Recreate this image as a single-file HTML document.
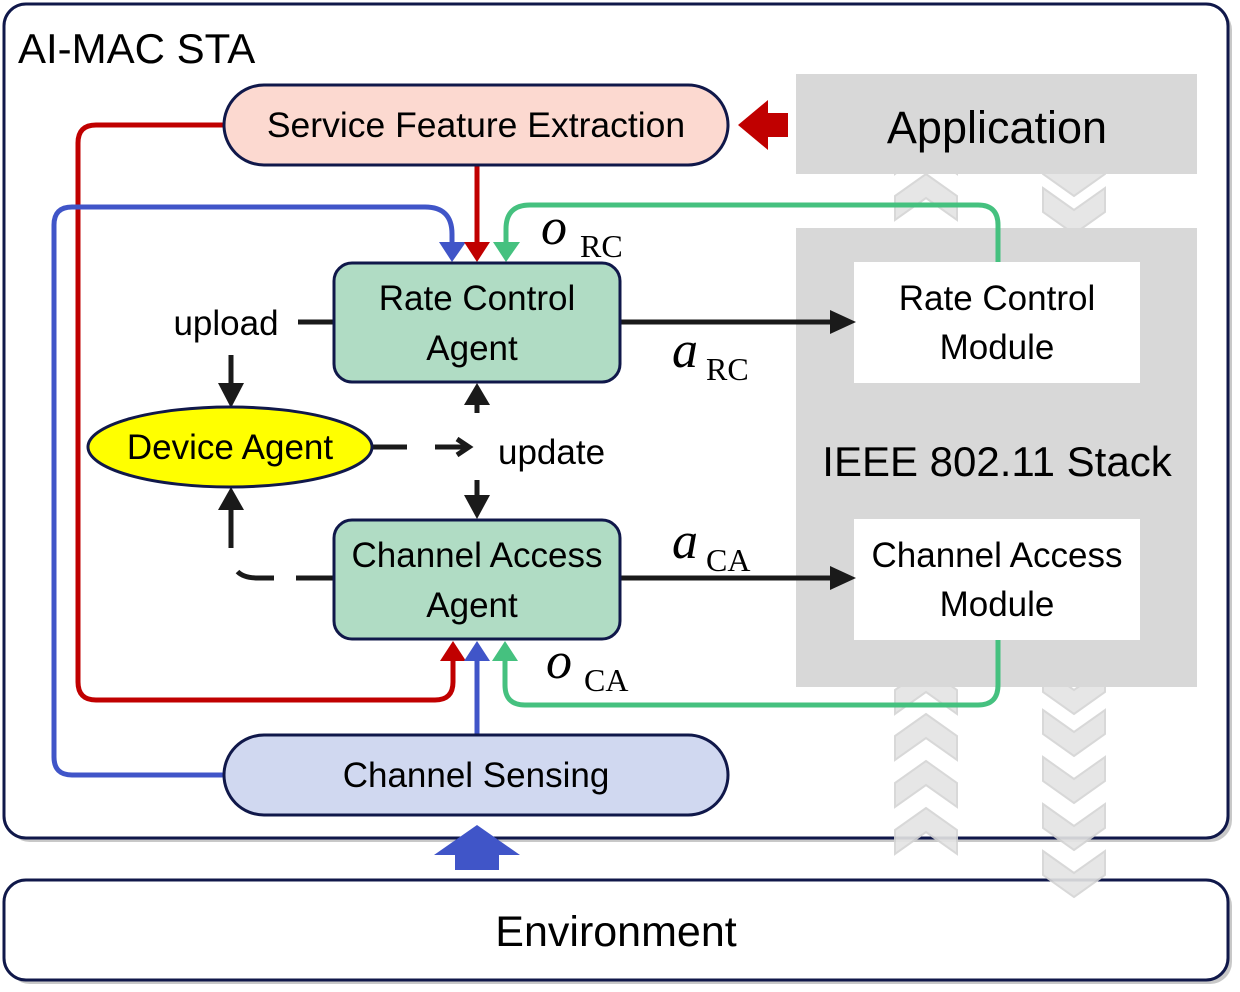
<!DOCTYPE html>
<html><head><meta charset="utf-8"><style>
html,body{margin:0;padding:0;background:#fff;}
svg{display:block;}
text{font-family:"Liberation Sans","DejaVu Sans",sans-serif;fill:#000;}
.s{font-family:"Liberation Serif",serif;}
</style></head><body>
<svg width="1240" height="992" viewBox="0 0 1240 992" xmlns="http://www.w3.org/2000/svg">
<!-- shadows -->
<rect x="8" y="8" width="1224" height="834" rx="22" fill="#c8c8c8"/>
<rect x="8" y="884" width="1224" height="100" rx="22" fill="#c8c8c8"/>
<rect x="4" y="4" width="1224" height="834" rx="22" fill="#fff" stroke="#10184a" stroke-width="3"/>
<rect x="4" y="880" width="1224" height="100" rx="22" fill="#fff" stroke="#10184a" stroke-width="3"/>
<!-- chevrons -->
<g fill="#e4e4e4" stroke="#d4d4d4" stroke-width="2" opacity="0.9">
<path d="M895,150 L926,128 L957,150 L957,174 L926,152 L895,174Z"/>
<path d="M895,196 L926,174 L957,196 L957,220 L926,198 L895,220Z"/>
<path d="M895,690 L926,668 L957,690 L957,714 L926,692 L895,714Z"/>
<path d="M895,736 L926,714 L957,736 L957,760 L926,738 L895,760Z"/>
<path d="M895,783 L926,761 L957,783 L957,807 L926,785 L895,807Z"/>
<path d="M895,830 L926,808 L957,830 L957,854 L926,832 L895,854Z"/>
<path d="M1043,150 L1074,172 L1105,150 L1105,174 L1074,196 L1043,174Z"/>
<path d="M1043,188 L1074,210 L1105,188 L1105,212 L1074,234 L1043,212Z"/>
<path d="M1043,668 L1074,690 L1105,668 L1105,692 L1074,714 L1043,692Z"/>
<path d="M1043,710 L1074,732 L1105,710 L1105,734 L1074,756 L1043,734Z"/>
<path d="M1043,757 L1074,779 L1105,757 L1105,781 L1074,803 L1043,781Z"/>
<path d="M1043,804 L1074,826 L1105,804 L1105,828 L1074,850 L1043,828Z"/>
<path d="M1043,851 L1074,873 L1105,851 L1105,875 L1074,897 L1043,875Z"/>
</g>
<text x="18" y="63" font-size="42">AI-MAC STA</text>
<!-- gray stack -->
<rect x="796" y="74" width="401" height="100" fill="#d8d8d8"/>
<rect x="796" y="228" width="401" height="459" fill="#d8d8d8"/>
<text x="997" y="143" font-size="45" text-anchor="middle">Application</text>
<text x="997" y="476" font-size="42" text-anchor="middle">IEEE 802.11 Stack</text>
<rect x="854" y="262" width="286" height="121" fill="#fff"/>
<rect x="854" y="519" width="286" height="121" fill="#fff"/>
<text x="997" y="310" font-size="35" text-anchor="middle">Rate Control</text>
<text x="997" y="359" font-size="35" text-anchor="middle">Module</text>
<text x="997" y="567" font-size="35" text-anchor="middle">Channel Access</text>
<text x="997" y="616" font-size="35" text-anchor="middle">Module</text>
<!-- red block arrow -->
<path d="M788,113 L768,113 L768,100 L738,125 L768,150 L768,137 L788,137Z" fill="#c00000"/>
<!-- blue block arrow -->
<path d="M455,870 L455,855 L434,855 L477,825 L520,855 L499,855 L499,870Z" fill="#4055c8"/>
<!-- lines -->
<g fill="none" stroke-width="5">
<path d="M224,125 L96,125 Q78,125 78,143 L78,682 Q78,700 96,700 L435,700 Q453,700 453,682 L453,660" stroke="#c00000"/>
<path d="M477,165 L477,243" stroke="#c00000"/>
<path d="M224,775 L72,775 Q54,775 54,757 L54,225 Q54,207 72,207 L425,207 Q452,207 452,234 L452,243" stroke="#4055c8"/>
<path d="M477,735 L477,660" stroke="#4055c8"/>
<path d="M998,262 L998,225 Q998,205 978,205 L530,205 Q506,205 506,229 L506,243" stroke="#45c17f"/>
<path d="M998,640 L998,685 Q998,705 978,705 L525,705 Q505,705 505,685 L505,660" stroke="#45c17f"/>
</g>
<g>
<path d="M439,242 L466,242 L452,262Z" fill="#4055c8"/>
<path d="M464,242 L490,242 L477,262Z" fill="#c00000"/>
<path d="M493,242 L520,242 L506,262Z" fill="#45c17f"/>
<path d="M440,661 L466,661 L453,641Z" fill="#c00000"/>
<path d="M464,661 L490,661 L477,641Z" fill="#4055c8"/>
<path d="M492,661 L518,661 L505,641Z" fill="#45c17f"/>
</g>
<!-- black -->
<g stroke="#1a1a1a" stroke-width="5" fill="none">
<path d="M620,322 L833,322"/>
<path d="M620,578 L833,578"/>
<path d="M298,322 L334,322"/>
<path d="M231,355 L231,388"/>
<path d="M372,447 L407,447 M435,447 L466,447"/>
<path d="M457,439 L469,447 L457,455"/>
<path d="M477,413 L477,400"/>
<path d="M477,480 L477,500"/>
<path d="M334,578 L258,578 Q240,578 235,568" stroke-dasharray="38,22"/>
<path d="M231,548 L231,508"/>
</g>
<g fill="#1a1a1a">
<path d="M830,310 L856,322 L830,334Z"/>
<path d="M830,566 L856,578 L830,590Z"/>
<path d="M218,383 L244,383 L231,408Z"/>
<path d="M464,405 L490,405 L477,383Z"/>
<path d="M464,495 L490,495 L477,519Z"/>
<path d="M218,510 L244,510 L231,487Z"/>
</g>
<!-- nodes -->
<rect x="224" y="85" width="504" height="80" rx="40" fill="#fcd9d0" stroke="#10184a" stroke-width="3"/>
<text x="476" y="137" font-size="35.5" text-anchor="middle">Service Feature Extraction</text>
<rect x="224" y="735" width="504" height="80" rx="40" fill="#d0d8f0" stroke="#10184a" stroke-width="3"/>
<text x="476" y="787" font-size="35" text-anchor="middle">Channel Sensing</text>
<rect x="334" y="263" width="286" height="119" rx="18" fill="#b0dcc4" stroke="#10184a" stroke-width="3"/>
<text x="477" y="310" font-size="35" text-anchor="middle">Rate Control</text>
<text x="472" y="360" font-size="35" text-anchor="middle">Agent</text>
<rect x="334" y="520" width="286" height="119" rx="18" fill="#b0dcc4" stroke="#10184a" stroke-width="3"/>
<text x="477" y="567" font-size="35" text-anchor="middle">Channel Access</text>
<text x="472" y="617" font-size="35" text-anchor="middle">Agent</text>
<ellipse cx="230" cy="447" rx="142" ry="40" fill="#ffff00" stroke="#10184a" stroke-width="3"/>
<text x="230" y="459" font-size="35" text-anchor="middle">Device Agent</text>
<text x="226" y="335" font-size="35" text-anchor="middle">upload</text>
<text x="498" y="464" font-size="35">update</text>
<!-- math labels -->
<text class="s" x="541" y="244" font-size="52" font-style="italic">o</text><text class="s" x="580" y="257" font-size="32">RC</text>
<text class="s" x="672" y="367" font-size="52" font-style="italic">a</text><text class="s" x="706" y="380" font-size="32">RC</text>
<text class="s" x="672" y="558" font-size="52" font-style="italic">a</text><text class="s" x="706" y="571" font-size="32">CA</text>
<text class="s" x="546" y="678" font-size="52" font-style="italic">o</text><text class="s" x="584" y="691" font-size="32">CA</text>
<text x="616" y="946" font-size="43" text-anchor="middle">Environment</text>
</svg>
</body></html>
